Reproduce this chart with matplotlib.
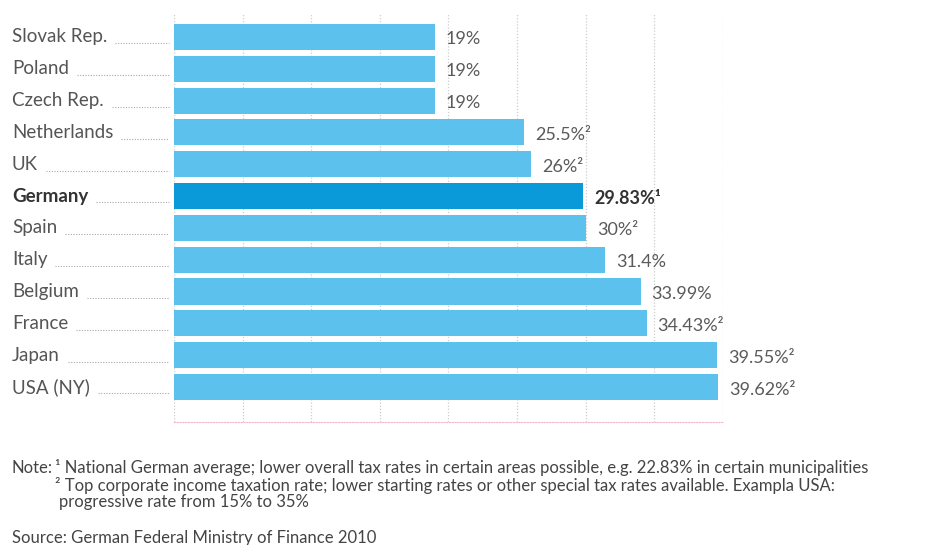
import matplotlib
matplotlib.use("Agg")
import matplotlib.pyplot as plt
import matplotlib.transforms as mtransforms

# corporate tax rates 2010
countries = ["Slovak Rep.", "Poland", "Czech Rep.", "Netherlands", "UK", "Germany",
             "Spain", "Italy", "Belgium", "France", "Japan", "USA (NY)"]
rates = [19, 19, 19, 25.5, 26, 29.83, 30, 31.4, 33.99, 34.43, 39.55, 39.62]
value_labels = ["19%", "19%", "19%", "25.5%²", "26%²", "29.83%¹", "30%²", "31.4%",
                "33.99%", "34.43%²", "39.55%²", "39.62%²"]
highlight = "Germany"

notes = [
    "¹ National German average; lower overall tax rates in certain areas possible, e.g. 22.83% in certain municipalities",
    "² Top corporate income taxation rate; lower starting rates or other special tax rates available. Exampla USA:",
    "progressive rate from 15% to 35%",
]
source = "Source: German Federal Ministry of Finance 2010"

plt.rcParams['font.family'] = ['Lato', 'DejaVu Sans']
light = "#5cc1ec"
dark = "#0a9ad9"

fig = plt.figure(figsize=(9.28, 5.45), dpi=100)
ax = fig.add_axes([174 / 928, 1 - 422 / 545, (723 - 174) / 928, (422 - 14) / 545])

ypos = list(range(len(countries)))
colors = [dark if c == highlight else light for c in countries]
ax.barh(ypos, rates, height=0.82, color=colors, zorder=2)

ax.set_xlim(0, 40)
ax.set_ylim(len(countries) - 1 + 1.1, -0.72)
ax.set_xticks(range(0, 41, 5))
ax.set_yticks([])
ax.tick_params(axis='x', length=0, labelbottom=False)
ax.grid(axis='x', linestyle=(0, (1, 1.5)), color="#cccccc", linewidth=0.9, zorder=0)
for s in ["top", "left", "right"]:
    ax.spines[s].set_visible(False)
ax.spines["bottom"].set_linestyle((0, (1, 1.5)))
ax.spines["bottom"].set_color("#f2b8c6")

for y, v, lab, c in zip(ypos, rates, value_labels, countries):
    bold = c == highlight
    ax.text(v + 0.8, y + 0.08, lab, va="center", ha="left", fontsize=13,
            color="#333333" if bold else "#5a5a5a",
            fontweight="bold" if bold else "normal")

# country labels with dotted leaders
tr = mtransforms.blended_transform_factory(fig.transFigure, ax.transData)
texts = []
for y, c in zip(ypos, countries):
    bold = c == highlight
    t = ax.text(12 / 928, y, c, transform=tr, va="center", ha="left", fontsize=13.5,
                color="#333333" if bold else "#555555",
                fontweight="bold" if bold else "normal", clip_on=False)
    texts.append(t)

fig.canvas.draw()
r = fig.canvas.get_renderer()
for y, t in zip(ypos, texts):
    bb = t.get_window_extent(renderer=r)
    x0 = (bb.x1 + 8) / 928
    ax.plot([x0, 169 / 928], [y + 0.2, y + 0.2], transform=tr, clip_on=False,
            linestyle=(0, (1, 1.4)), color="#aaaaaa", linewidth=0.8)

note_kw = dict(fontsize=12, color="#444444", va="center")
fig.text(12 / 928, 1 - 468 / 545, "Note:", **note_kw)
fig.text(55 / 928, 1 - 468 / 545, notes[0], **note_kw)
fig.text(55 / 928, 1 - 485 / 545, notes[1], **note_kw)
fig.text(59 / 928, 1 - 502 / 545, notes[2], **note_kw)
fig.text(12 / 928, 1 - 538 / 545, source, **note_kw)

fig.savefig("out.png", dpi=100)
